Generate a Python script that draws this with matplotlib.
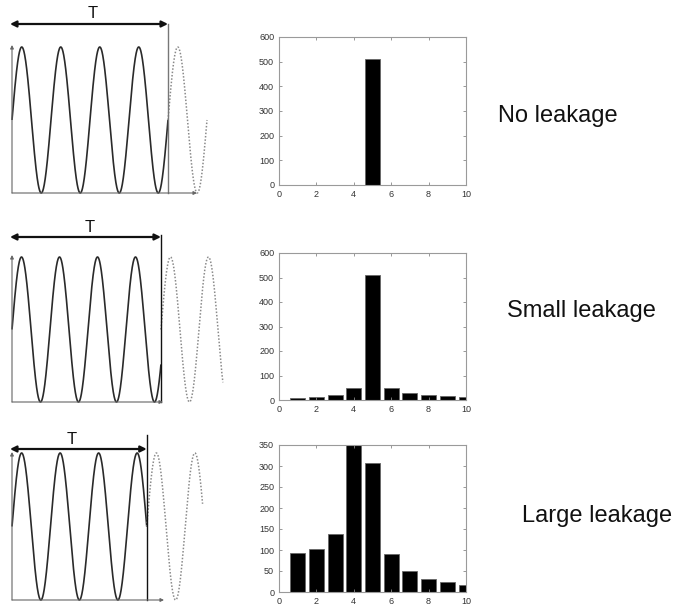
import matplotlib
matplotlib.use('Agg')
import matplotlib.pyplot as plt
import numpy as np

plt.rcParams['font.family'] = ['Liberation Sans', 'DejaVu Sans']

# ---------------- data ----------------
bins = [1, 2, 3, 4, 5, 6, 7, 8, 9, 10]
no_leakage = [0, 0, 0, 2, 512, 2, 0, 0, 0, 0]
small_leakage = [8, 12, 20, 48, 510, 50, 27, 20, 17, 13]
large_leakage = [93, 102, 139, 352, 307, 90, 49, 32, 23, 17]
spectra = [no_leakage, small_leakage, large_leakage]

row_labels = ['No leakage', 'Small leakage', 'Large leakage']
y_max = [600, 600, 350]
y_step = [100, 100, 50]
x_ticks = [0, 2, 4, 6, 8, 10]

# cycles of the sine that fit in the window T, and the dotted repeat shown after it
window_cycles = [4.0, 3.92, 3.5]
extension_cycles = [1.0, 1.63, 1.45]

# ---------------- layout (pixels) ----------------
W, H = 681, 610
fig = plt.figure(figsize=(W / 100, H / 100), dpi=100)


def px_axes(left, top, right, bottom):
    return fig.add_axes([left / W, 1 - bottom / H, (right - left) / W, (bottom - top) / H])


left_geom = [
    dict(x0=12, P=39.0, mid=120.0, amp=73.0, ty=24, vtop=24, xend=197, ytop=45, tpos=(93, 14), vcol='#777777'),
    dict(x0=12, P=38.0, mid=329.5, amp=72.5, ty=237, vtop=235, xend=163, ytop=255, tpos=(90, 227), vcol='#111111'),
    dict(x0=12, P=38.5, mid=526.5, amp=73.5, ty=449, vtop=435, xend=164, ytop=452, tpos=(72, 439), vcol='#111111'),
]
right_geom = [(279, 37, 466, 185), (279, 253, 466, 400), (279, 445, 466, 592)]
label_pos = [(498, 122), (507, 317), (522, 522)]

for i in range(3):
    g = left_geom[i]
    box_top, box_bot = g['vtop'] - 22, g['mid'] + g['amp'] + 12
    ax = px_axes(0, box_top, 235, box_bot)
    ax.set_xlim((0 - g['x0']) / g['P'], (235 - g['x0']) / g['P'])
    ax.set_ylim((g['mid'] - box_bot) / g['amp'], (g['mid'] - box_top) / g['amp'])
    ax.axis('off')

    def dy(py):
        return (g['mid'] - py) / g['amp']

    def dx(px):
        return (px - g['x0']) / g['P']

    n = window_cycles[i]
    e = extension_cycles[i]
    ax.annotate('', xy=(0, dy(g['ytop'])), xytext=(0, -1.0),
                arrowprops=dict(arrowstyle='-|>', color='#666666', lw=0.8,
                                mutation_scale=5, shrinkA=0, shrinkB=0))
    ax.annotate('', xy=(dx(g['xend']), -1.0), xytext=(0, -1.0),
                arrowprops=dict(arrowstyle='-|>', color='#666666', lw=0.8,
                                mutation_scale=5, shrinkA=0, shrinkB=0))
    t = np.linspace(0, n, 800)
    ax.plot(t, np.sin(2 * np.pi * t), color='#2a2a2a', lw=1.2, solid_capstyle='butt')
    t2 = np.linspace(n, n + e, 300)
    ax.plot(t2, np.sin(2 * np.pi * (t2 - n)), color='#8a8a8a', lw=1.1, ls=(0, (1, 1.2)))
    ax.plot([n, n], [-1.0, dy(g['vtop'])], color=g['vcol'], lw=1.0)
    ax.annotate('', xy=(dx(g['x0'] - 2), dy(g['ty'])), xytext=(n, dy(g['ty'])),
                arrowprops=dict(arrowstyle='<|-|>', color='#111111', lw=1.6,
                                mutation_scale=9, shrinkA=0, shrinkB=0))
    ax.text(dx(g['tpos'][0]), dy(g['tpos'][1]), 'T', fontsize=12, ha='center', va='center',
            color='#111111')

    l, tp, r, b = right_geom[i]
    bx = px_axes(l, tp, r, b)
    bx.bar(bins, spectra[i], width=0.8, color='black', edgecolor='#666666', linewidth=0.6)
    bx.set_xlim(0, 10)
    bx.set_ylim(0, y_max[i])
    bx.set_xticks(x_ticks)
    bx.set_yticks(np.arange(0, y_max[i] + 1, y_step[i]))
    bx.tick_params(direction='in', top=True, right=True, length=2.5, width=0.6,
                   color='#888888', labelsize=6.5, labelcolor='#333333', pad=3.5)
    for s in bx.spines.values():
        s.set_color('#9a9a9a')
        s.set_linewidth(0.8)

    fig.text(label_pos[i][0] / W, 1 - label_pos[i][1] / H, row_labels[i], fontsize=17,
             ha='left', va='baseline', color='#111111')

fig.savefig('out.png', dpi=100)
